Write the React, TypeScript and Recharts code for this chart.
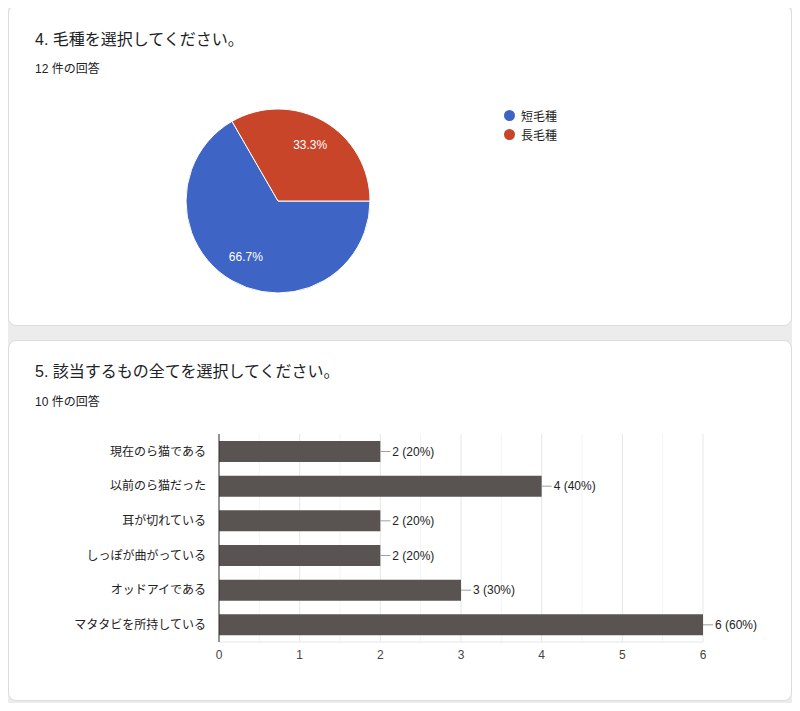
import { PieChart, Pie, Cell, Legend, BarChart, Bar, XAxis, YAxis, CartesianGrid, LabelList } from 'recharts';

const furTypes = ['短毛種', '長毛種'];
const furCounts = [8, 4];
const furColors = ['#3e65c5', '#c8452a'];

const traits = ['現在のら猫である', '以前のら猫だった', '耳が切れている', 'しっぽが曲がっている', 'オッドアイである', 'マタタビを所持している'];
const traitCounts = [2, 4, 2, 2, 3, 6];
const traitTotal = 10;
const xTicks = [0, 1, 2, 3, 4, 5, 6];
const xMinorTicks = [0.5, 1.5, 2.5, 3.5, 4.5, 5.5];

const pieData = furTypes.map((name, i) => ({ name, value: furCounts[i] }));
const barData = traits.map((name, i) => ({ name, value: traitCounts[i] }));

const FONT = '"Liberation Sans", "Noto Sans CJK JP", sans-serif';
const RAD = Math.PI / 180;

const card = (top: number, height: number): React.CSSProperties => ({
  position: 'absolute',
  left: 8,
  top,
  width: 784,
  height,
  background: '#fff',
  borderRadius: 8,
  border: '1px solid #dadce0',
  boxSizing: 'border-box',
});

const titleStyle: React.CSSProperties = {
  position: 'absolute',
  left: 26,
  fontSize: 16,
  lineHeight: '16px',
  color: '#202124',
  fontFamily: FONT,
  whiteSpace: 'nowrap',
};

const subStyle: React.CSSProperties = {
  position: 'absolute',
  left: 26,
  fontSize: 12,
  lineHeight: '12px',
  color: '#202124',
  fontFamily: FONT,
  whiteSpace: 'nowrap',
};

const renderPieLabel = (props: any) => {
  const { cx, cy, midAngle, outerRadius, percent } = props;
  const r = outerRadius * 0.7;
  const x = cx + r * Math.cos(-midAngle * RAD);
  const y = cy + r * Math.sin(-midAngle * RAD);
  return (
    <text x={x} y={y} fill="#fff" fontSize={12} fontFamily={FONT} textAnchor="middle" dominantBaseline="central">
      {(percent * 100).toFixed(1)}%
    </text>
  );
};

const renderLegend = (props: any) => {
  const { payload } = props;
  return (
    <div style={{ fontFamily: FONT, fontSize: 12, color: '#222' }}>
      {payload.map((entry: any, i: number) => (
        <div key={i} style={{ display: 'flex', alignItems: 'center', height: 19 }}>
          <span style={{ width: 11, height: 11, borderRadius: '50%', background: entry.color, display: 'inline-block', marginRight: 6 }} />
          <span>{entry.value}</span>
        </div>
      ))}
    </div>
  );
};

const renderBarLabel = (props: any) => {
  const { x, y, width, height, value } = props;
  const end = x + width;
  const mid = y + height / 2;
  return (
    <g>
      <line x1={end} y1={mid} x2={end + 10} y2={mid} stroke="#9e9e9e" strokeWidth={1} />
      <text x={end + 12} y={mid} fill="#222" fontSize={12} fontFamily={FONT} dominantBaseline="central">
        {`${value} (${Math.round((value / traitTotal) * 100)}%)`}
      </text>
    </g>
  );
};

// minor gridlines at the half steps, placed through the x axis scale
const minorLines = (props: any) => {
  const { xAxis, offset } = props;
  return xMinorTicks.map((t) =>
    xAxis && typeof xAxis.scale === 'function' ? xAxis.scale(t) : offset.left + (t / 6) * offset.width
  );
};

export default function App() {
  return (
    <div style={{ position: 'relative', margin: -8, width: 800, height: 711, background: '#ececec', overflow: 'hidden' }}>
      <div style={card(5, 321)}>
        <div style={{ ...titleStyle, top: 26 }}>4. 毛種を選択してください。</div>
        <div style={{ ...subStyle, top: 57 }}>12 件の回答</div>
        <div style={{ position: 'absolute', left: 0, top: 0 }}>
          <PieChart width={782} height={319} margin={{ top: 0, right: 0, bottom: 0, left: 0 }}>
            <Pie
              data={pieData}
              dataKey="value"
              nameKey="name"
              cx={269}
              cy={195}
              outerRadius={92}
              startAngle={120}
              endAngle={480}
              stroke="#fff"
              strokeWidth={1}
              label={renderPieLabel}
              labelLine={false}
              isAnimationActive={false}
            >
              {pieData.map((d, i) => (
                <Cell key={d.name} fill={furColors[i]} />
              ))}
            </Pie>
            <Legend
              layout="vertical"
              content={renderLegend}
              wrapperStyle={{ position: 'absolute', left: 495, top: 100, width: 120 }}
            />
          </PieChart>
        </div>
      </div>

      <div style={card(340, 361)}>
        <div style={{ ...titleStyle, top: 23 }}>5. 該当するもの全てを選択してください。</div>
        <div style={{ ...subStyle, top: 55 }}>10 件の回答</div>
        <div style={{ position: 'absolute', left: 0, top: 0 }}>
          <BarChart
            width={782}
            height={359}
            data={barData}
            layout="vertical"
            margin={{ top: 93, right: 88, bottom: 28, left: 10 }}
            barSize={21}
          >
            <CartesianGrid horizontal={false} stroke="#f4f4f4" verticalCoordinatesGenerator={minorLines} />
            <CartesianGrid horizontal={false} stroke="#e6e6e6" />
            <XAxis
              type="number"
              domain={[0, 6]}
              ticks={xTicks}
              axisLine={{ stroke: '#e6e6e6' }}
              tickLine={false}
              tickMargin={2}
              tick={{ fontSize: 12, fill: '#444', fontFamily: FONT }}
              height={30}
            />
            <YAxis
              type="category"
              dataKey="name"
              width={200}
              axisLine={{ stroke: '#333' }}
              tickLine={false}
              tickSize={0}
              tickMargin={13}
              tick={{ fontSize: 12, fill: '#222', fontFamily: FONT }}
            />
            <Bar dataKey="value" fill="#595351" isAnimationActive={false}>
              <LabelList dataKey="value" content={renderBarLabel} />
            </Bar>
          </BarChart>
        </div>
      </div>
    </div>
  );
}
